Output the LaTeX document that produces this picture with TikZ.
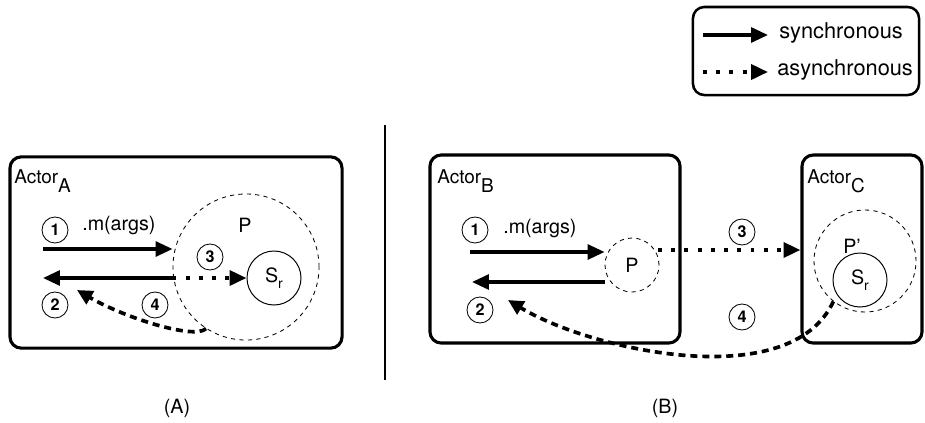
\documentclass[tikz,border=0pt]{standalone}
\usepackage{fontspec}
\setmainfont{TeX Gyre Heros}
\usetikzlibrary{arrows.meta}

\begin{document}
\begin{tikzpicture}[x=0.025cm, y=-0.025cm,
  actorbox/.style={draw, line width=2.2pt, rounded corners=8pt},
  numcirc/.style={draw, circle, line width=0.6pt, minimum size=0.65cm, inner sep=0pt, font=\fontsize{11.5}{13}\selectfont\bfseries},
  procirc/.style={draw, circle, dashed, line width=0.6pt, inner sep=0pt},
  srvcirc/.style={draw, circle, line width=0.7pt, minimum size=1.35cm, inner sep=0pt, font=\fontsize{14}{16}\selectfont},
  txt/.style={font=\fontsize{14}{16}\selectfont, inner sep=0pt},
  syncarr/.style={line width=2.4pt, -{Triangle[length=12pt, width=10.5pt]}},
  asyncarr/.style={line width=2.8pt, dash pattern=on 2.8pt off 6.6pt, -{Triangle[length=12pt, width=10.5pt]}},
  retarr/.style={line width=2.6pt, dash pattern=on 5pt off 3.5pt, -{Triangle[length=11pt, width=10.5pt]}}]

\useasboundingbox (0,0) rectangle (925,422);

% Legend
\node[actorbox, line width=1.8pt, minimum width=5.65cm, minimum height=2.2cm] (legend) at (806,51) {};
\coordinate (ls1) at (703,35);
\coordinate (le1) at (768,35);
\coordinate (ls2) at (703,72);
\coordinate (le2) at (768,72);
\draw[syncarr] (ls1) -- (le1);
\draw[asyncarr] (ls2) -- (le2);
\node[txt, font=\fontsize{15.5}{17}\selectfont, anchor=west] (lsync) at (779,33) {synchronous};
\node[txt, font=\fontsize{15.5}{17}\selectfont, anchor=west] (lasync) at (777,70) {asynchronous};

% Separator
\coordinate (sepT) at (385,125);
\coordinate (sepB) at (385,380);
\draw[line width=1.4pt] (sepT) -- (sepB);

% (A): one actor
\node[actorbox, minimum width=8.3cm, minimum height=4.78cm] (actA) at (176,252.5) {};
\node[txt, font=\fontsize{13.5}{15}\selectfont, anchor=base west] (labA) at (14,183) {Actor\raisebox{-7pt}{A}};
\node[procirc, minimum size=3.65cm] (PA) at (246,267) {};
\node[txt] (PlabA) at (245,225) {P};
\node[srvcirc] (SrA) at (274,278) {S\raisebox{-4.5pt}{\fontsize{10}{11}\selectfont r}};
\node[numcirc] (n1A) at (55,230) {1};
\node[numcirc] (n2A) at (55,305) {2};
\node[numcirc] (n3A) at (210,257) {3};
\node[numcirc] (n4A) at (155,305) {4};
\node[txt, anchor=base west] (mA) at (82,230) {.m(args)};
\coordinate (a1A) at (43,249);
\coordinate (a2A) at (43,278);
\coordinate (a4A) at (77,290);
\draw[syncarr] (a1A) -- (a1A -| PA.west);
\draw[syncarr] (PA.west |- SrA) -- (a2A);
\draw[asyncarr] (PA.west |- SrA) -- (SrA.west);
\draw[retarr] (PA.237) .. controls (195,340) and (125,318) .. (a4A);

% (B): two actors
\node[actorbox, minimum width=6.25cm, minimum height=4.7cm] (actB) at (555,249) {};
\node[actorbox, minimum width=3.0cm, minimum height=4.7cm] (actC) at (862,249) {};
\node[txt, font=\fontsize{13.5}{15}\selectfont, anchor=base west] (labB) at (437,183) {Actor\raisebox{-7pt}{B}};
\node[txt, font=\fontsize{13.5}{15}\selectfont, anchor=base west] (labC) at (807,183) {Actor\raisebox{-7pt}{C}};
\node[procirc, minimum size=1.35cm, font=\fontsize{14}{16}\selectfont] (PB) at (632,265) {P};
\node[procirc, minimum size=2.55cm] (PpC) at (865,261) {};
\node[txt] (PlabC) at (852,246) {P’};
\node[srvcirc] (SrC) at (860,280) {S\raisebox{-4.5pt}{\fontsize{10}{11}\selectfont r}};
\node[numcirc] (n1B) at (475,230) {1};
\node[numcirc] (n2B) at (480,310) {2};
\node[numcirc] (n3B) at (742,232) {3};
\node[numcirc] (n4B) at (742,317) {4};
\node[txt, anchor=base west] (mB) at (503,233) {.m(args)};
\coordinate (a1B) at (470,252);
\coordinate (a2B) at (472,282);
\coordinate (a3B) at (658,250);
\coordinate (a4B) at (508,300);
\draw[syncarr] (a1B) -- (a1B -| PB.west);
\draw[syncarr] (a2B -| PB.west) -- (a2B);
\draw[asyncarr] (a3B) -- (a3B -| actC.west);
\draw[retarr] (PpC.232) .. controls (790,395) and (590,350) .. (a4B);

% Captions
\node[txt] (capA) at (177,408) {(A)};
\node[txt] (capB) at (665,408) {(B)};

\end{tikzpicture}
\end{document}
